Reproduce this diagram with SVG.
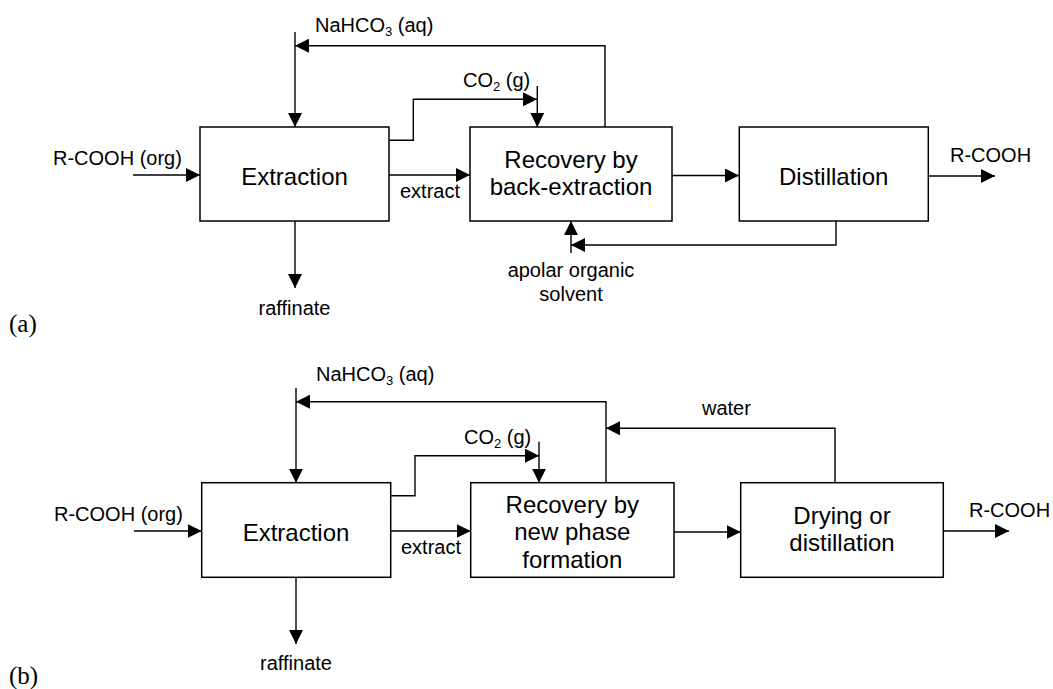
<svg xmlns="http://www.w3.org/2000/svg" width="1053" height="689" viewBox="0 0 1053 689">
<style>
.box{fill:#fff;stroke:#000;stroke-width:1.5}
.ln{fill:none;stroke:#000;stroke-width:1.4}
.arr{marker-end:url(#ah)}
.lbl{font-family:"Liberation Sans",Arial,sans-serif;font-size:20px;fill:#000}
.bt{font-family:"Liberation Sans",Arial,sans-serif;font-size:24px;fill:#000;text-anchor:middle}
.pl{font-family:"Liberation Serif","Times New Roman",serif;font-size:25px;fill:#000}
.sub{font-size:13px}
</style>
<defs>
<marker id="ah" markerUnits="userSpaceOnUse" markerWidth="15" markerHeight="14" refX="14" refY="7" orient="auto">
<path d="M0,0 L14,7 L0,14 z" fill="#000"/>
</marker>
</defs>

<g id="connectors">
<!-- (a) -->
<path class="ln arr" d="M133,175 H200"/>
<path class="ln arr" d="M295,32 V127"/>
<path class="ln arr" d="M605,127 V45.7 H295"/>
<path class="ln arr" d="M389,140.3 H413.3 V99.3 H537"/>
<path class="ln arr" d="M537.3,86 V127"/>
<path class="ln arr" d="M389,175 H470"/>
<path class="ln arr" d="M295,221 V288"/>
<path class="ln arr" d="M672,175.5 H739"/>
<path class="ln arr" d="M928,176 H995"/>
<path class="ln arr" d="M836,221 V245 H571"/>
<path class="ln arr" d="M571,253 V221"/>
<!-- (b) -->
<path class="ln arr" d="M134,531 H201.7"/>
<path class="ln arr" d="M296,388 V482.7"/>
<path class="ln arr" d="M606,482.7 V401.7 H296"/>
<path class="ln arr" d="M835,482.7 V428.3 H606"/>
<path class="ln arr" d="M390.7,495.7 H415 V455.7 H539"/>
<path class="ln arr" d="M539,441.7 V482.7"/>
<path class="ln arr" d="M390.7,531 H470.7"/>
<path class="ln arr" d="M296,577.3 V644"/>
<path class="ln arr" d="M674,532 H740.7"/>
<path class="ln arr" d="M943.3,531 H1009"/>
</g>

<g id="extraction-a">
<rect class="box" x="200" y="127" width="189" height="94"/>
<text class="bt" x="294.5" y="185">Extraction</text>
</g>
<g id="recovery-a">
<rect class="box" x="470" y="127" width="202" height="94"/>
<text class="bt" x="571" y="167.5">Recovery by</text>
<text class="bt" x="571" y="195">back-extraction</text>
</g>
<g id="distillation-a">
<rect class="box" x="739.3" y="127" width="189" height="94"/>
<text class="bt" x="833.7" y="185">Distillation</text>
</g>

<g id="extraction-b">
<rect class="box" x="201.7" y="482.7" width="189" height="94.6"/>
<text class="bt" x="296" y="541">Extraction</text>
</g>
<g id="recovery-b">
<rect class="box" x="470.7" y="482.7" width="203.3" height="94.6"/>
<text class="bt" x="572.3" y="512.7">Recovery by</text>
<text class="bt" x="572.3" y="540">new phase</text>
<text class="bt" x="572.3" y="567.5">formation</text>
</g>
<g id="drying-b">
<rect class="box" x="740.7" y="482.7" width="202.6" height="94.6"/>
<text class="bt" x="842" y="524">Drying or</text>
<text class="bt" x="842" y="551">distillation</text>
</g>

<g id="labels">
<text class="lbl" x="315" y="31.5">NaHCO<tspan class="sub" dy="4">3</tspan><tspan dy="-4"> (aq)</tspan></text>
<text class="lbl" x="53" y="164.5">R-COOH (org)</text>
<text class="lbl" x="463" y="87">CO<tspan class="sub" dy="4">2</tspan><tspan dy="-4"> (g)</tspan></text>
<text class="lbl" x="400" y="198">extract</text>
<text class="lbl" x="294.5" y="315" text-anchor="middle">raffinate</text>
<text class="lbl" x="571" y="277" text-anchor="middle">apolar organic</text>
<text class="lbl" x="571" y="300.5" text-anchor="middle">solvent</text>
<text class="lbl" x="950" y="161.5">R-COOH</text>
<text class="pl" x="9" y="331.5">(a)</text>

<text class="lbl" x="316" y="381">NaHCO<tspan class="sub" dy="4">3</tspan><tspan dy="-4"> (aq)</tspan></text>
<text class="lbl" x="54" y="521">R-COOH (org)</text>
<text class="lbl" x="464" y="444">CO<tspan class="sub" dy="4">2</tspan><tspan dy="-4"> (g)</tspan></text>
<text class="lbl" x="401" y="554">extract</text>
<text class="lbl" x="296" y="670" text-anchor="middle">raffinate</text>
<text class="lbl" x="702" y="415">water</text>
<text class="lbl" x="969" y="516.5">R-COOH</text>
<text class="pl" x="9" y="683.5">(b)</text>
</g>
</svg>
